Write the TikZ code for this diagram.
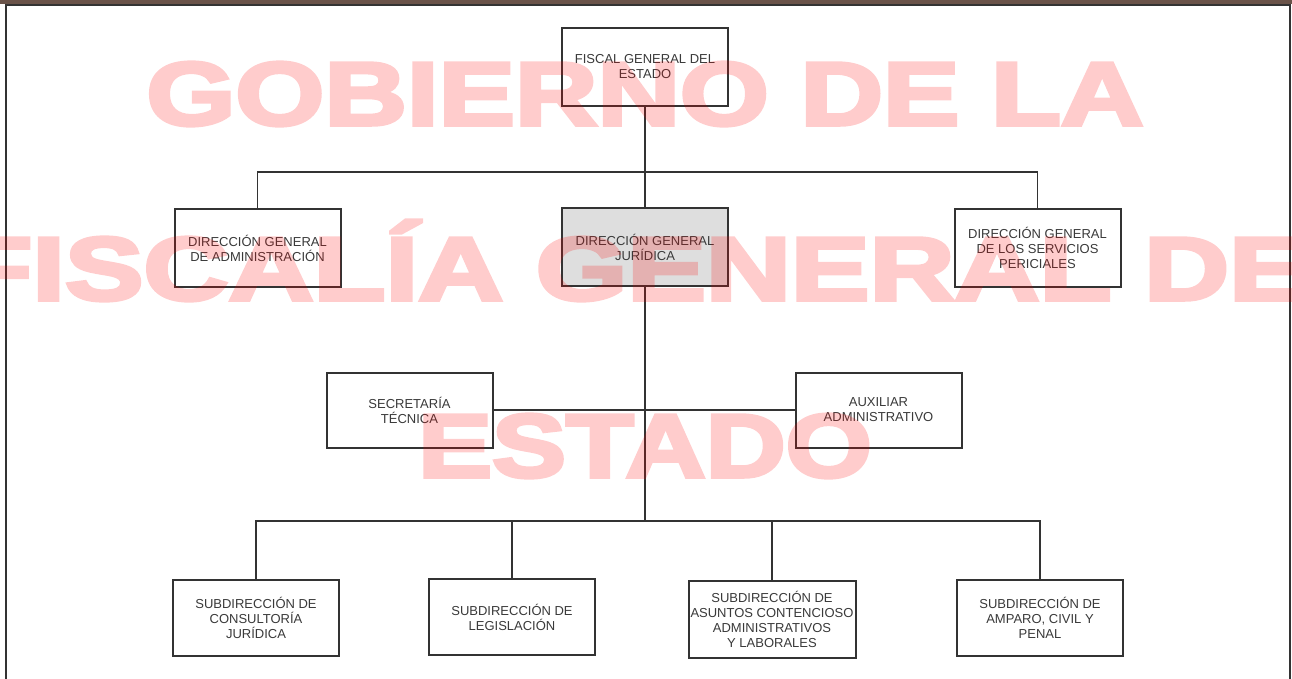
\documentclass[tikz,border=0pt]{standalone}
\usepackage{fontspec}
\setmainfont{Liberation Sans}
\newfontfamily\wmfont{Liberation Sans Bold}[FakeBold=3.9]
\definecolor{linegray}{HTML}{333333}
\definecolor{textgray}{HTML}{3A3A3A}
\definecolor{boxfill}{HTML}{DEDEDE}
\definecolor{topbar}{HTML}{6A5349}
\begin{document}
\begin{tikzpicture}[x=1pt,y=-1pt,
  unit/.style={draw=linegray,line width=2pt,fill=white,text=textgray,align=center,
    minimum width=166pt,minimum height=78pt,inner sep=2pt,font=\fontsize{13}{15}\selectfont},
  link/.style={draw=linegray,line width=1.6pt},
  wm/.style={text=red,anchor=base,xscale=1.27,font=\fontsize{90}{90}\wmfont}]
\useasboundingbox (0,0) rectangle (1292,679);
% frame
\fill[topbar] (0,0) rectangle (1292,4);
\draw[linegray,line width=2pt] (6,679)--(6,5)--(1290,5)--(1290,679);
% boxes
\node[unit] (fiscal) at (645,67) {FISCAL GENERAL DEL\\ESTADO};
\node[unit] (admin) at (257.5,248) {DIRECCIÓN GENERAL\\DE ADMINISTRACIÓN};
\node[unit,fill=boxfill] (juridica) at (645,247) {DIRECCIÓN GENERAL\\JURÍDICA};
\node[unit] (pericial) at (1037.5,248) {DIRECCIÓN GENERAL\\DE LOS SERVICIOS\\PERICIALES};
\node[unit,minimum height=75pt] (secretaria) at (409.5,410) {SECRETARÍA\\TÉCNICA};
\node[unit,minimum height=75pt] (auxiliar) at (878.5,410) {AUXILIAR\\ADMINISTRATIVO};
\node[unit,minimum height=76pt] (subcons) at (256,618) {SUBDIRECCIÓN DE\\CONSULTORÍA\\JURÍDICA};
\node[unit,minimum height=76pt] (sublegis) at (512,617) {SUBDIRECCIÓN DE\\LEGISLACIÓN};
\node[unit,minimum height=77pt] (subasun) at (772,619.5) {SUBDIRECCIÓN DE\\ASUNTOS CONTENCIOSO\\ADMINISTRATIVOS\\Y LABORALES};
\node[unit,minimum height=76pt] (subamp) at (1040,618) {SUBDIRECCIÓN DE\\AMPARO, CIVIL Y\\PENAL};
% lines
\coordinate (bus1) at (645,172);
\coordinate (bus2) at (645,521);
\draw[link] (fiscal.south)--(juridica.north);
\draw[link] (admin.north)|-(bus1)-|(pericial.north);
\draw[link] (juridica.south)--(bus2);
\draw[link] (secretaria.east)--(auxiliar.west);
\draw[link] (subcons.north)|-(bus2)-|(subamp.north);
\draw[link] (sublegis.north)--(sublegis.north|-bus2);
\draw[link] (subasun.north)--(subasun.north|-bus2);
% watermark
\begin{scope}[transparency group,opacity=.2]
\clip (0,0) rectangle (1292,679);
\node[wm] (wmtop) at (645,125) {GOBIERNO DE LA};
\node[wm,xscale=1.03] (wmmid) at (670,300) {FISCALÍA GENERAL DEL};
\node[wm,xscale=.97] (wmlow) at (645,477) {ESTADO};
\end{scope}
\end{tikzpicture}
\end{document}
